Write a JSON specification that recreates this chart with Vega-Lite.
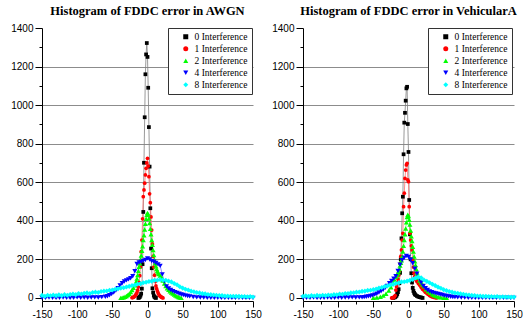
{
"$schema": "https://vega.github.io/schema/vega-lite/v6.json",
"background": "white",
"padding": {"left": 10, "top": 4, "right": 0, "bottom": 0},
"config": {
  "view": {"stroke": null},
  "axis": {"labelFont": "Liberation Sans", "labelFontSize": 10, "labelColor": "black", "domainColor": "black", "tickColor": "black", "title": null, "labelPadding": 2, "labelOverlap": false, "labelFlush": false, "labelBound": false},
  "title": {"font": "Liberation Serif", "fontSize": 12.5, "fontWeight": "bold", "color": "black", "anchor": "middle", "offset": 6, "frame": "group"}
},
"datasets": {
"awgn": [
{"s":0,"x":-13,"y":0},{"s":0,"x":-12,"y":2},{"s":0,"x":-11,"y":5},{"s":0,"x":-10,"y":12},{"s":0,"x":-9,"y":22},{"s":0,"x":-8,"y":48},{"s":0,"x":-7,"y":175},{"s":0,"x":-6,"y":446},{"s":0,"x":-5,"y":701},{"s":0,"x":-4,"y":937},{"s":0,"x":-3,"y":1160},{"s":0,"x":-2,"y":1263},{"s":0,"x":-1,"y":1322},{"s":0,"x":0,"y":1250},{"s":0,"x":1,"y":1090},{"s":0,"x":2,"y":886},{"s":0,"x":3,"y":681},{"s":0,"x":4,"y":465},{"s":0,"x":5,"y":256},{"s":0,"x":6,"y":154},{"s":0,"x":7,"y":50},{"s":0,"x":8,"y":28},{"s":0,"x":9,"y":12},{"s":0,"x":10,"y":5},{"s":0,"x":11,"y":2},{"s":0,"x":12,"y":0},
{"s":1,"x":-22,"y":1},{"s":1,"x":-21,"y":2},{"s":1,"x":-20,"y":4},{"s":1,"x":-19,"y":6},{"s":1,"x":-18,"y":9},{"s":1,"x":-17,"y":14},{"s":1,"x":-16,"y":20},{"s":1,"x":-15,"y":28},{"s":1,"x":-14,"y":40},{"s":1,"x":-13,"y":56},{"s":1,"x":-12,"y":80},{"s":1,"x":-11,"y":115},{"s":1,"x":-10,"y":160},{"s":1,"x":-9,"y":240},{"s":1,"x":-8,"y":300},{"s":1,"x":-7,"y":410},{"s":1,"x":-6,"y":525},{"s":1,"x":-5,"y":560},{"s":1,"x":-4,"y":595},{"s":1,"x":-3,"y":638},{"s":1,"x":-2,"y":672},{"s":1,"x":-1,"y":700},{"s":1,"x":0,"y":724},{"s":1,"x":1,"y":684},{"s":1,"x":2,"y":629},{"s":1,"x":3,"y":540},{"s":1,"x":4,"y":494},{"s":1,"x":5,"y":420},{"s":1,"x":6,"y":352},{"s":1,"x":7,"y":280},{"s":1,"x":8,"y":215},{"s":1,"x":9,"y":160},{"s":1,"x":10,"y":118},{"s":1,"x":11,"y":85},{"s":1,"x":12,"y":62},{"s":1,"x":13,"y":48},{"s":1,"x":14,"y":36},{"s":1,"x":15,"y":27},{"s":1,"x":16,"y":19},{"s":1,"x":17,"y":13},{"s":1,"x":18,"y":9},{"s":1,"x":19,"y":6},{"s":1,"x":20,"y":4},{"s":1,"x":21,"y":2},{"s":1,"x":22,"y":0},
{"s":2,"x":-38,"y":0},{"s":2,"x":-36,"y":1},{"s":2,"x":-34,"y":3},{"s":2,"x":-32,"y":6},{"s":2,"x":-30,"y":10},{"s":2,"x":-28,"y":15},{"s":2,"x":-26,"y":22},{"s":2,"x":-24,"y":30},{"s":2,"x":-22,"y":41},{"s":2,"x":-20,"y":52},{"s":2,"x":-18,"y":66},{"s":2,"x":-16,"y":85},{"s":2,"x":-15,"y":100},{"s":2,"x":-14,"y":118},{"s":2,"x":-13,"y":140},{"s":2,"x":-12,"y":162},{"s":2,"x":-11,"y":180},{"s":2,"x":-10,"y":200},{"s":2,"x":-9,"y":220},{"s":2,"x":-8,"y":245},{"s":2,"x":-7,"y":268},{"s":2,"x":-6,"y":300},{"s":2,"x":-5,"y":325},{"s":2,"x":-4,"y":355},{"s":2,"x":-3,"y":385},{"s":2,"x":-2,"y":410},{"s":2,"x":-1,"y":430},{"s":2,"x":0,"y":441},{"s":2,"x":1,"y":432},{"s":2,"x":2,"y":412},{"s":2,"x":3,"y":388},{"s":2,"x":4,"y":358},{"s":2,"x":5,"y":330},{"s":2,"x":6,"y":300},{"s":2,"x":7,"y":275},{"s":2,"x":8,"y":248},{"s":2,"x":9,"y":222},{"s":2,"x":10,"y":198},{"s":2,"x":11,"y":180},{"s":2,"x":12,"y":164},{"s":2,"x":13,"y":150},{"s":2,"x":14,"y":140},{"s":2,"x":15,"y":131},{"s":2,"x":16,"y":124},{"s":2,"x":18,"y":116},{"s":2,"x":20,"y":108},{"s":2,"x":22,"y":90},{"s":2,"x":24,"y":75},{"s":2,"x":26,"y":62},{"s":2,"x":28,"y":50},{"s":2,"x":30,"y":42},{"s":2,"x":32,"y":35},{"s":2,"x":34,"y":28},{"s":2,"x":36,"y":23},{"s":2,"x":38,"y":17},{"s":2,"x":40,"y":12},{"s":2,"x":42,"y":8},{"s":2,"x":44,"y":5},{"s":2,"x":46,"y":2},{"s":2,"x":48,"y":0},
{"s":4,"x":-150,"y":1},{"s":4,"x":-145,"y":0},{"s":4,"x":-140,"y":2},{"s":4,"x":-135,"y":1},{"s":4,"x":-130,"y":0},{"s":4,"x":-125,"y":1},{"s":4,"x":-120,"y":2},{"s":4,"x":-115,"y":1},{"s":4,"x":-110,"y":0},{"s":4,"x":-105,"y":1},{"s":4,"x":-100,"y":3},{"s":4,"x":-95,"y":1},{"s":4,"x":-90,"y":2},{"s":4,"x":-85,"y":1},{"s":4,"x":-80,"y":2},{"s":4,"x":-75,"y":3},{"s":4,"x":-70,"y":2},{"s":4,"x":-65,"y":4},
{"s":4,"x":-60,"y":6},{"s":4,"x":-57,"y":9},{"s":4,"x":-54,"y":14},{"s":4,"x":-51,"y":20},{"s":4,"x":-48,"y":28},{"s":4,"x":-45,"y":38},{"s":4,"x":-42,"y":50},{"s":4,"x":-39,"y":64},{"s":4,"x":-36,"y":76},{"s":4,"x":-33,"y":85},{"s":4,"x":-30,"y":91},{"s":4,"x":-27,"y":96},{"s":4,"x":-24,"y":102},{"s":4,"x":-21,"y":112},{"s":4,"x":-18,"y":138},{"s":4,"x":-15,"y":176},{"s":4,"x":-12,"y":184},{"s":4,"x":-9,"y":187},{"s":4,"x":-6,"y":192},{"s":4,"x":-3,"y":197},{"s":4,"x":0,"y":205},{"s":4,"x":3,"y":199},{"s":4,"x":6,"y":191},{"s":4,"x":9,"y":188},{"s":4,"x":12,"y":181},{"s":4,"x":15,"y":174},{"s":4,"x":18,"y":166},{"s":4,"x":21,"y":122},{"s":4,"x":24,"y":86},{"s":4,"x":27,"y":60},{"s":4,"x":30,"y":49},{"s":4,"x":33,"y":41},{"s":4,"x":36,"y":35},{"s":4,"x":39,"y":30},{"s":4,"x":42,"y":26},{"s":4,"x":45,"y":22},{"s":4,"x":48,"y":18},{"s":4,"x":51,"y":15},{"s":4,"x":54,"y":12},{"s":4,"x":57,"y":10},{"s":4,"x":60,"y":8},
{"s":4,"x":65,"y":5},{"s":4,"x":70,"y":3},{"s":4,"x":75,"y":2},{"s":4,"x":80,"y":2},{"s":4,"x":85,"y":1},{"s":4,"x":90,"y":1},{"s":4,"x":95,"y":0},{"s":4,"x":100,"y":1},{"s":4,"x":105,"y":0},{"s":4,"x":110,"y":0},{"s":4,"x":115,"y":1},{"s":4,"x":120,"y":0},{"s":4,"x":125,"y":0},{"s":4,"x":130,"y":1},{"s":4,"x":135,"y":0},{"s":4,"x":140,"y":0},{"s":4,"x":145,"y":0},{"s":4,"x":150,"y":0},
{"s":8,"x":-150,"y":13},{"s":8,"x":-146,"y":9},{"s":8,"x":-142,"y":14},{"s":8,"x":-138,"y":11},{"s":8,"x":-134,"y":15},{"s":8,"x":-130,"y":12},{"s":8,"x":-126,"y":16},{"s":8,"x":-122,"y":12},{"s":8,"x":-118,"y":17},{"s":8,"x":-114,"y":14},{"s":8,"x":-110,"y":18},{"s":8,"x":-106,"y":20},{"s":8,"x":-102,"y":17},{"s":8,"x":-98,"y":23},{"s":8,"x":-94,"y":20},{"s":8,"x":-90,"y":24},{"s":8,"x":-86,"y":26},{"s":8,"x":-82,"y":23},{"s":8,"x":-78,"y":28},{"s":8,"x":-74,"y":30},{"s":8,"x":-70,"y":28},{"s":8,"x":-66,"y":33},{"s":8,"x":-62,"y":35},{"s":8,"x":-58,"y":36},{"s":8,"x":-54,"y":40},{"s":8,"x":-50,"y":41},{"s":8,"x":-46,"y":45},{"s":8,"x":-42,"y":47},{"s":8,"x":-38,"y":51},{"s":8,"x":-34,"y":53},{"s":8,"x":-30,"y":57},{"s":8,"x":-26,"y":60},{"s":8,"x":-22,"y":64},{"s":8,"x":-18,"y":67},{"s":8,"x":-14,"y":72},{"s":8,"x":-10,"y":74},{"s":8,"x":-6,"y":79},{"s":8,"x":-2,"y":81},{"s":8,"x":2,"y":85},{"s":8,"x":6,"y":87},{"s":8,"x":10,"y":91},{"s":8,"x":14,"y":92},{"s":8,"x":18,"y":95},{"s":8,"x":22,"y":93},{"s":8,"x":26,"y":92},{"s":8,"x":30,"y":87},{"s":8,"x":34,"y":83},{"s":8,"x":38,"y":75},{"s":8,"x":42,"y":68},{"s":8,"x":46,"y":58},{"s":8,"x":50,"y":51},{"s":8,"x":54,"y":45},{"s":8,"x":58,"y":41},{"s":8,"x":62,"y":35},{"s":8,"x":66,"y":32},{"s":8,"x":70,"y":28},{"s":8,"x":74,"y":26},{"s":8,"x":78,"y":22},{"s":8,"x":82,"y":21},{"s":8,"x":86,"y":18},{"s":8,"x":90,"y":17},{"s":8,"x":94,"y":15},{"s":8,"x":98,"y":14},{"s":8,"x":102,"y":12},{"s":8,"x":106,"y":12},{"s":8,"x":110,"y":10},{"s":8,"x":114,"y":10},{"s":8,"x":118,"y":9},{"s":8,"x":122,"y":9},{"s":8,"x":126,"y":8},{"s":8,"x":130,"y":8},{"s":8,"x":134,"y":7},{"s":8,"x":138,"y":7},{"s":8,"x":142,"y":6},{"s":8,"x":146,"y":7},{"s":8,"x":150,"y":5}
],
"veh": [
{"s":0,"x":-22,"y":0},{"s":0,"x":-20,"y":2},{"s":0,"x":-19,"y":5},{"s":0,"x":-18,"y":8},{"s":0,"x":-17,"y":12},{"s":0,"x":-16,"y":20},{"s":0,"x":-15,"y":30},{"s":0,"x":-14,"y":45},{"s":0,"x":-13,"y":76},{"s":0,"x":-12,"y":130},{"s":0,"x":-11,"y":200},{"s":0,"x":-10,"y":309},{"s":0,"x":-9,"y":439},{"s":0,"x":-8,"y":525},{"s":0,"x":-7,"y":745},{"s":0,"x":-6,"y":909},{"s":0,"x":-5,"y":960},{"s":0,"x":-4,"y":1023},{"s":0,"x":-3,"y":1087},{"s":0,"x":-2,"y":1095},{"s":0,"x":-1,"y":902},{"s":0,"x":0,"y":757},{"s":0,"x":1,"y":508},{"s":0,"x":2,"y":330},{"s":0,"x":3,"y":200},{"s":0,"x":4,"y":128},{"s":0,"x":5,"y":80},{"s":0,"x":6,"y":52},{"s":0,"x":7,"y":36},{"s":0,"x":8,"y":26},{"s":0,"x":9,"y":20},{"s":0,"x":10,"y":15},{"s":0,"x":12,"y":10},{"s":0,"x":14,"y":6},{"s":0,"x":16,"y":4},{"s":0,"x":18,"y":2},{"s":0,"x":20,"y":0},
{"s":1,"x":-24,"y":0},{"s":1,"x":-22,"y":1},{"s":1,"x":-21,"y":2},{"s":1,"x":-20,"y":6},{"s":1,"x":-19,"y":12},{"s":1,"x":-18,"y":41},{"s":1,"x":-17,"y":58},{"s":1,"x":-16,"y":78},{"s":1,"x":-15,"y":98},{"s":1,"x":-14,"y":118},{"s":1,"x":-13,"y":140},{"s":1,"x":-12,"y":178},{"s":1,"x":-11,"y":215},{"s":1,"x":-10,"y":249},{"s":1,"x":-9,"y":300},{"s":1,"x":-8,"y":335},{"s":1,"x":-7,"y":473},{"s":1,"x":-6,"y":543},{"s":1,"x":-5,"y":620},{"s":1,"x":-4,"y":663},{"s":1,"x":-3,"y":690},{"s":1,"x":-2,"y":698},{"s":1,"x":-1,"y":612},{"s":1,"x":0,"y":603},{"s":1,"x":1,"y":473},{"s":1,"x":2,"y":335},{"s":1,"x":3,"y":300},{"s":1,"x":4,"y":270},{"s":1,"x":5,"y":249},{"s":1,"x":6,"y":200},{"s":1,"x":7,"y":160},{"s":1,"x":8,"y":128},{"s":1,"x":9,"y":112},{"s":1,"x":10,"y":100},{"s":1,"x":11,"y":92},{"s":1,"x":12,"y":85},{"s":1,"x":14,"y":75},{"s":1,"x":16,"y":66},{"s":1,"x":18,"y":55},{"s":1,"x":20,"y":45},{"s":1,"x":22,"y":38},{"s":1,"x":24,"y":30},{"s":1,"x":26,"y":24},{"s":1,"x":28,"y":18},{"s":1,"x":30,"y":12},{"s":1,"x":32,"y":8},{"s":1,"x":34,"y":5},{"s":1,"x":36,"y":3},{"s":1,"x":38,"y":1},{"s":1,"x":40,"y":0},
{"s":2,"x":-50,"y":0},{"s":2,"x":-45,"y":2},{"s":2,"x":-40,"y":6},{"s":2,"x":-36,"y":12},{"s":2,"x":-32,"y":22},{"s":2,"x":-28,"y":38},{"s":2,"x":-25,"y":55},{"s":2,"x":-22,"y":78},{"s":2,"x":-20,"y":95},{"s":2,"x":-18,"y":110},{"s":2,"x":-16,"y":120},{"s":2,"x":-15,"y":130},{"s":2,"x":-14,"y":140},{"s":2,"x":-13,"y":150},{"s":2,"x":-12,"y":168},{"s":2,"x":-11,"y":182},{"s":2,"x":-10,"y":195},{"s":2,"x":-9,"y":215},{"s":2,"x":-8,"y":240},{"s":2,"x":-7,"y":270},{"s":2,"x":-6,"y":300},{"s":2,"x":-5,"y":330},{"s":2,"x":-4,"y":360},{"s":2,"x":-3,"y":392},{"s":2,"x":-2,"y":420},{"s":2,"x":-1,"y":431},{"s":2,"x":0,"y":425},{"s":2,"x":1,"y":405},{"s":2,"x":2,"y":380},{"s":2,"x":3,"y":350},{"s":2,"x":4,"y":320},{"s":2,"x":5,"y":295},{"s":2,"x":6,"y":265},{"s":2,"x":7,"y":240},{"s":2,"x":8,"y":215},{"s":2,"x":9,"y":190},{"s":2,"x":10,"y":170},{"s":2,"x":11,"y":150},{"s":2,"x":12,"y":132},{"s":2,"x":13,"y":118},{"s":2,"x":14,"y":105},{"s":2,"x":16,"y":90},{"s":2,"x":18,"y":80},{"s":2,"x":20,"y":70},{"s":2,"x":22,"y":60},{"s":2,"x":25,"y":45},{"s":2,"x":28,"y":35},{"s":2,"x":31,"y":26},{"s":2,"x":34,"y":18},{"s":2,"x":37,"y":12},{"s":2,"x":40,"y":8},{"s":2,"x":43,"y":5},{"s":2,"x":46,"y":3},{"s":2,"x":50,"y":1},{"s":2,"x":54,"y":0},
{"s":4,"x":-150,"y":1},{"s":4,"x":-145,"y":0},{"s":4,"x":-140,"y":1},{"s":4,"x":-135,"y":2},{"s":4,"x":-130,"y":0},{"s":4,"x":-125,"y":1},{"s":4,"x":-120,"y":1},{"s":4,"x":-115,"y":2},{"s":4,"x":-110,"y":0},{"s":4,"x":-105,"y":1},{"s":4,"x":-100,"y":2},{"s":4,"x":-95,"y":1},{"s":4,"x":-90,"y":2},{"s":4,"x":-85,"y":2},{"s":4,"x":-80,"y":3},{"s":4,"x":-75,"y":2},{"s":4,"x":-70,"y":3},
{"s":4,"x":-66,"y":3},{"s":4,"x":-63,"y":4},{"s":4,"x":-60,"y":6},{"s":4,"x":-57,"y":8},{"s":4,"x":-54,"y":10},{"s":4,"x":-51,"y":13},{"s":4,"x":-48,"y":17},{"s":4,"x":-45,"y":22},{"s":4,"x":-42,"y":28},{"s":4,"x":-39,"y":35},{"s":4,"x":-36,"y":42},{"s":4,"x":-33,"y":52},{"s":4,"x":-30,"y":62},{"s":4,"x":-27,"y":76},{"s":4,"x":-24,"y":88},{"s":4,"x":-21,"y":100},{"s":4,"x":-18,"y":112},{"s":4,"x":-15,"y":140},{"s":4,"x":-12,"y":172},{"s":4,"x":-9,"y":196},{"s":4,"x":-6,"y":208},{"s":4,"x":-3,"y":218},{"s":4,"x":0,"y":212},{"s":4,"x":3,"y":198},{"s":4,"x":6,"y":180},{"s":4,"x":9,"y":152},{"s":4,"x":12,"y":126},{"s":4,"x":15,"y":100},{"s":4,"x":18,"y":80},{"s":4,"x":21,"y":62},{"s":4,"x":24,"y":50},{"s":4,"x":27,"y":41},{"s":4,"x":30,"y":34},{"s":4,"x":33,"y":29},{"s":4,"x":36,"y":26},{"s":4,"x":39,"y":23},{"s":4,"x":42,"y":21},{"s":4,"x":45,"y":18},{"s":4,"x":48,"y":15},{"s":4,"x":51,"y":12},{"s":4,"x":54,"y":10},{"s":4,"x":57,"y":8},{"s":4,"x":60,"y":6},{"s":4,"x":63,"y":5},{"s":4,"x":66,"y":4},
{"s":4,"x":70,"y":3},{"s":4,"x":75,"y":2},{"s":4,"x":80,"y":2},{"s":4,"x":85,"y":1},{"s":4,"x":90,"y":1},{"s":4,"x":95,"y":0},{"s":4,"x":100,"y":1},{"s":4,"x":105,"y":0},{"s":4,"x":110,"y":0},{"s":4,"x":115,"y":1},{"s":4,"x":120,"y":0},{"s":4,"x":125,"y":0},{"s":4,"x":130,"y":0},{"s":4,"x":135,"y":0},{"s":4,"x":140,"y":1},{"s":4,"x":145,"y":0},{"s":4,"x":150,"y":0},
{"s":8,"x":-150,"y":9},{"s":8,"x":-146,"y":11},{"s":8,"x":-142,"y":8},{"s":8,"x":-138,"y":12},{"s":8,"x":-134,"y":10},{"s":8,"x":-130,"y":13},{"s":8,"x":-126,"y":11},{"s":8,"x":-122,"y":14},{"s":8,"x":-118,"y":12},{"s":8,"x":-114,"y":15},{"s":8,"x":-110,"y":14},{"s":8,"x":-106,"y":17},{"s":8,"x":-102,"y":16},{"s":8,"x":-98,"y":20},{"s":8,"x":-94,"y":19},{"s":8,"x":-90,"y":23},{"s":8,"x":-86,"y":22},{"s":8,"x":-82,"y":26},{"s":8,"x":-78,"y":27},{"s":8,"x":-74,"y":30},{"s":8,"x":-70,"y":31},{"s":8,"x":-66,"y":34},{"s":8,"x":-62,"y":35},{"s":8,"x":-58,"y":39},{"s":8,"x":-54,"y":40},{"s":8,"x":-50,"y":43},{"s":8,"x":-46,"y":46},{"s":8,"x":-42,"y":51},{"s":8,"x":-38,"y":54},{"s":8,"x":-34,"y":59},{"s":8,"x":-30,"y":62},{"s":8,"x":-26,"y":67},{"s":8,"x":-22,"y":70},{"s":8,"x":-18,"y":75},{"s":8,"x":-14,"y":78},{"s":8,"x":-10,"y":83},{"s":8,"x":-6,"y":84},{"s":8,"x":-2,"y":87},{"s":8,"x":2,"y":91},{"s":8,"x":6,"y":96},{"s":8,"x":10,"y":104},{"s":8,"x":14,"y":108},{"s":8,"x":18,"y":104},{"s":8,"x":22,"y":93},{"s":8,"x":26,"y":86},{"s":8,"x":30,"y":79},{"s":8,"x":34,"y":71},{"s":8,"x":38,"y":64},{"s":8,"x":42,"y":56},{"s":8,"x":46,"y":50},{"s":8,"x":50,"y":43},{"s":8,"x":54,"y":38},{"s":8,"x":58,"y":33},{"s":8,"x":62,"y":30},{"s":8,"x":66,"y":26},{"s":8,"x":70,"y":24},{"s":8,"x":74,"y":21},{"s":8,"x":78,"y":19},{"s":8,"x":82,"y":16},{"s":8,"x":86,"y":15},{"s":8,"x":90,"y":13},{"s":8,"x":94,"y":12},{"s":8,"x":98,"y":10},{"s":8,"x":102,"y":10},{"s":8,"x":106,"y":8},{"s":8,"x":110,"y":9},{"s":8,"x":114,"y":7},{"s":8,"x":118,"y":7},{"s":8,"x":122,"y":6},{"s":8,"x":126,"y":7},{"s":8,"x":130,"y":5},{"s":8,"x":134,"y":6},{"s":8,"x":138,"y":5},{"s":8,"x":142,"y":5},{"s":8,"x":146,"y":4},{"s":8,"x":150,"y":5}
]
},
"spacing": 50,
"bounds": "flush",
"resolve": {"scale": {"color": "independent", "shape": "independent", "stroke": "independent"}, "legend": {"color": "independent", "shape": "independent", "stroke": "independent"}},
"hconcat": [
{
  "title": "Histogram of FDDC error in AWGN",
  "width": 211, "height": 273,
  "data": {"name": "awgn"},
  "encoding": {
    "x": {"field": "x", "type": "quantitative", "scale": {"domain": [-150, 150], "nice": false, "zero": false},
      "axis": {"values": [-150,-125,-100,-75,-50,-25,0,25,50,75,100,125,150], "labelExpr": "datum.value % 50 == 0 ? '' + datum.value : ''", "tickSize": {"condition": {"test": "datum.value % 50 == 0", "value": 6}, "value": 3}, "grid": false}},
    "y": {"field": "y", "type": "quantitative", "scale": {"domain": [-16, 1400], "nice": false, "zero": false},
      "axis": {"values": [0,100,200,300,400,500,600,700,800,900,1000,1100,1200,1300,1400], "labelExpr": "datum.value % 200 == 0 ? '' + datum.value : ''", "tickSize": {"condition": {"test": "datum.value % 200 == 0", "value": 7}, "value": 3}, "grid": true, "gridColor": "#8c8c8c", "gridWidth": 1, "gridOpacity": {"condition": {"test": "datum.value % 200 == 0 && datum.value > 0 && datum.value < 1400", "value": 1}, "value": 0}}}
  },
  "layer": [
    {"mark": {"type": "line", "strokeWidth": 0.8},
     "encoding": {"stroke": {"field": "s", "type": "nominal", "scale": {"domain": [0,1,2,4,8], "range": ["#808080","#ff7070","#70ee70","#7070ff","#70ffff"]},
       "legend": {"orient":"none","legendX":126,"legendY":0,"title":null,"strokeColor":"#333333","fillColor":"white","padding":4,"labelFont":"Liberation Serif","labelFontSize":9.5,"labelColor":"black","rowPadding":1,"symbolOffset":9,"labelOffset":4,"symbolSize":25,"symbolStrokeWidth":0,"symbolOpacity":1,"labelExpr":"datum.label + ' Interference'"}}}},
    {"transform": [{"filter": "datum.s <= 1"}],
     "mark": {"type": "point", "filled": true, "opacity": 1, "strokeWidth": 0, "size": 14},
     "encoding": {
       "color": {"field": "s", "type": "nominal", "scale": {"domain": [0,1,2,4,8], "range": ["#000000","#ff0000","#00ff00","#0000ff","#00ffff"]}, "legend": {"orient":"none","legendX":126,"legendY":0,"title":null,"strokeColor":"#333333","fillColor":"white","padding":4,"labelFont":"Liberation Serif","labelFontSize":9.5,"labelColor":"black","rowPadding":1,"symbolOffset":9,"labelOffset":4,"symbolSize":25,"symbolStrokeWidth":0,"symbolOpacity":1,"labelExpr":"datum.label + ' Interference'"}},
       "shape": {"field": "s", "type": "nominal", "scale": {"domain": [0,1,2,4,8], "range": ["square","circle","triangle-up","triangle-down","diamond"]}, "legend": {"orient":"none","legendX":126,"legendY":0,"title":null,"strokeColor":"#333333","fillColor":"white","padding":4,"labelFont":"Liberation Serif","labelFontSize":9.5,"labelColor":"black","rowPadding":1,"symbolOffset":9,"labelOffset":4,"symbolSize":25,"symbolStrokeWidth":0,"symbolOpacity":1,"labelExpr":"datum.label + ' Interference'"}}
     }},
    {"transform": [{"filter": "datum.s >= 2"}],
     "mark": {"type": "point", "filled": true, "opacity": 1, "strokeWidth": 0, "size": 26},
     "encoding": {
       "color": {"field": "s", "type": "nominal", "scale": {"domain": [0,1,2,4,8], "range": ["#000000","#ff0000","#00ff00","#0000ff","#00ffff"]}, "legend": {"orient":"none","legendX":126,"legendY":0,"title":null,"strokeColor":"#333333","fillColor":"white","padding":4,"labelFont":"Liberation Serif","labelFontSize":9.5,"labelColor":"black","rowPadding":1,"symbolOffset":9,"labelOffset":4,"symbolSize":25,"symbolStrokeWidth":0,"symbolOpacity":1,"labelExpr":"datum.label + ' Interference'"}},
       "shape": {"field": "s", "type": "nominal", "scale": {"domain": [0,1,2,4,8], "range": ["square","circle","triangle-up","triangle-down","diamond"]}, "legend": {"orient":"none","legendX":126,"legendY":0,"title":null,"strokeColor":"#333333","fillColor":"white","padding":4,"labelFont":"Liberation Serif","labelFontSize":9.5,"labelColor":"black","rowPadding":1,"symbolOffset":9,"labelOffset":4,"symbolSize":25,"symbolStrokeWidth":0,"symbolOpacity":1,"labelExpr":"datum.label + ' Interference'"}}
     }}
  ]
},
{
  "title": "Histogram of FDDC error in VehicularA",
  "width": 211, "height": 273,
  "data": {"name": "veh"},
  "encoding": {
    "x": {"field": "x", "type": "quantitative", "scale": {"domain": [-150, 150], "nice": false, "zero": false},
      "axis": {"values": [-150,-125,-100,-75,-50,-25,0,25,50,75,100,125,150], "labelExpr": "datum.value % 50 == 0 ? '' + datum.value : ''", "tickSize": {"condition": {"test": "datum.value % 50 == 0", "value": 6}, "value": 3}, "grid": false}},
    "y": {"field": "y", "type": "quantitative", "scale": {"domain": [-16, 1400], "nice": false, "zero": false},
      "axis": {"values": [0,100,200,300,400,500,600,700,800,900,1000,1100,1200,1300,1400], "labelExpr": "datum.value % 200 == 0 ? '' + datum.value : ''", "tickSize": {"condition": {"test": "datum.value % 200 == 0", "value": 7}, "value": 3}, "grid": true, "gridColor": "#8c8c8c", "gridWidth": 1, "gridOpacity": {"condition": {"test": "datum.value % 200 == 0 && datum.value > 0 && datum.value < 1400", "value": 1}, "value": 0}}}
  },
  "layer": [
    {"mark": {"type": "line", "strokeWidth": 0.8},
     "encoding": {"stroke": {"field": "s", "type": "nominal", "scale": {"domain": [0,1,2,4,8], "range": ["#808080","#ff7070","#70ee70","#7070ff","#70ffff"]},
       "legend": {"orient":"none","legendX":125,"legendY":0,"title":null,"strokeColor":"#333333","fillColor":"white","padding":4,"labelFont":"Liberation Serif","labelFontSize":9.5,"labelColor":"black","rowPadding":1,"symbolOffset":9,"labelOffset":4,"symbolSize":25,"symbolStrokeWidth":0,"symbolOpacity":1,"labelExpr":"datum.label + ' Interference'"}}}},
    {"transform": [{"filter": "datum.s <= 1"}],
     "mark": {"type": "point", "filled": true, "opacity": 1, "strokeWidth": 0, "size": 14},
     "encoding": {
       "color": {"field": "s", "type": "nominal", "scale": {"domain": [0,1,2,4,8], "range": ["#000000","#ff0000","#00ff00","#0000ff","#00ffff"]}, "legend": {"orient":"none","legendX":125,"legendY":0,"title":null,"strokeColor":"#333333","fillColor":"white","padding":4,"labelFont":"Liberation Serif","labelFontSize":9.5,"labelColor":"black","rowPadding":1,"symbolOffset":9,"labelOffset":4,"symbolSize":25,"symbolStrokeWidth":0,"symbolOpacity":1,"labelExpr":"datum.label + ' Interference'"}},
       "shape": {"field": "s", "type": "nominal", "scale": {"domain": [0,1,2,4,8], "range": ["square","circle","triangle-up","triangle-down","diamond"]}, "legend": {"orient":"none","legendX":125,"legendY":0,"title":null,"strokeColor":"#333333","fillColor":"white","padding":4,"labelFont":"Liberation Serif","labelFontSize":9.5,"labelColor":"black","rowPadding":1,"symbolOffset":9,"labelOffset":4,"symbolSize":25,"symbolStrokeWidth":0,"symbolOpacity":1,"labelExpr":"datum.label + ' Interference'"}}
     }},
    {"transform": [{"filter": "datum.s >= 2"}],
     "mark": {"type": "point", "filled": true, "opacity": 1, "strokeWidth": 0, "size": 26},
     "encoding": {
       "color": {"field": "s", "type": "nominal", "scale": {"domain": [0,1,2,4,8], "range": ["#000000","#ff0000","#00ff00","#0000ff","#00ffff"]}, "legend": {"orient":"none","legendX":125,"legendY":0,"title":null,"strokeColor":"#333333","fillColor":"white","padding":4,"labelFont":"Liberation Serif","labelFontSize":9.5,"labelColor":"black","rowPadding":1,"symbolOffset":9,"labelOffset":4,"symbolSize":25,"symbolStrokeWidth":0,"symbolOpacity":1,"labelExpr":"datum.label + ' Interference'"}},
       "shape": {"field": "s", "type": "nominal", "scale": {"domain": [0,1,2,4,8], "range": ["square","circle","triangle-up","triangle-down","diamond"]}, "legend": {"orient":"none","legendX":125,"legendY":0,"title":null,"strokeColor":"#333333","fillColor":"white","padding":4,"labelFont":"Liberation Serif","labelFontSize":9.5,"labelColor":"black","rowPadding":1,"symbolOffset":9,"labelOffset":4,"symbolSize":25,"symbolStrokeWidth":0,"symbolOpacity":1,"labelExpr":"datum.label + ' Interference'"}}
     }}
  ]
}
]
}
